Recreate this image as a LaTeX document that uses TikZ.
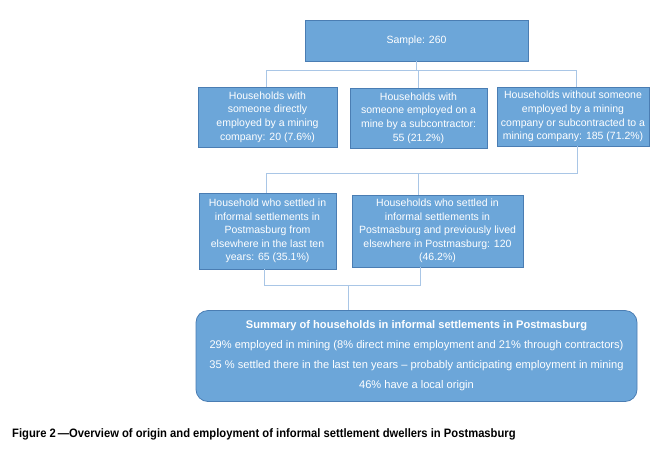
\documentclass[tikz,border=0pt]{standalone}
\usepackage{fontspec}
\setmainfont{Liberation Sans}
\newfontfamily\capfont[FakeStretch=0.92]{Liberation Sans}
\usetikzlibrary{positioning,calc}
\definecolor{boxfill}{HTML}{6CA6D9}
\definecolor{boxedge}{HTML}{4A7DB3}
\definecolor{linkcol}{HTML}{A9C6E6}
\begin{document}
\begin{tikzpicture}[x=1pt,y=-1pt,
  box/.style={draw=boxedge,line width=0.8pt,fill=boxfill,text=white,align=center,inner sep=0pt,
    font=\fontsize{10.5}{13.6}\selectfont},
  link/.style={draw=linkcol,line width=1pt}]
\useasboundingbox (0,0) rectangle (668,456);
\node[box,minimum width=223pt,minimum height=41pt] (sample) at (416.5,40.5) {Sample: 260};
\node[box,minimum width=139pt,minimum height=60pt] (b1) at (267.5,117) {Households with\\someone directly\\employed by a mining\\company: 20 (7.6\%)};
\node[box,minimum width=137pt,minimum height=60pt] (b2) at (418.5,118) {Households with\\someone employed on a\\mine by a subcontractor:\\55 (21.2\%)};
\node[box,minimum width=152pt,minimum height=59pt] (b3) at (573,116.5) {Households without someone\\employed by a mining\\company or subcontracted to a\\mining company: 185 (71.2\%)};
\node[box,minimum width=137pt,minimum height=76pt] (b4) at (267.5,231) {Household who settled in\\informal settlements in\\Postmasburg from\\elsewhere in the last ten\\years: 65 (35.1\%)};
\node[box,minimum width=171pt,minimum height=72pt] (b5) at (437.5,231) {Households who settled in\\informal settlements in\\Postmasburg and previously lived\\elsewhere in Postmasburg: 120\\(46.2\%)};
\node[box,rounded corners=12pt,minimum width=441pt,minimum height=91pt,
  font=\fontsize{11.1}{20}\selectfont] (sum) at (416.5,356)
  {\textbf{Summary of households in informal settlements in Postmasburg}\\
   29\% employed in mining (8\% direct mine employment and 21\% through contractors)\\
   35 \% settled there in the last ten years -- probably anticipating employment in mining\\
   46\% have a local origin};
\node[anchor=west,inner sep=0pt,font=\capfont\bfseries\fontsize{12.2}{13}\selectfont] (cap) at (12,434)
  {Figure 2\,—Overview of origin and employment of informal settlement dwellers in Postmasburg};
% connectors row 1
\coordinate (j1l) at (266,70);
\coordinate (j1r) at (576,70);
\coordinate (j1m) at (416.5,70);
\coordinate (j1b) at (418,70);
\draw[link] (sample.south) -- (j1m);
\draw[link] (j1l |- b1.north) -- (j1l) -- (j1r) -- (j1r |- b3.north);
\draw[link] (j1b) -- (j1b |- b2.north);
% connectors row 2
\coordinate (j2r) at (577,173);
\coordinate (j2l) at (266,173);
\coordinate (j2b) at (418,173);
\draw[link] (j2r |- b3.south) -- (j2r) -- (j2l) -- (j2l |- b4.north);
\draw[link] (j2b) -- (j2b |- b5.north);
% connectors row 3
\coordinate (j3l) at (264,285);
\coordinate (j3r) at (420,285);
\coordinate (j3m) at (348,285);
\draw[link] (j3l |- b4.south) -- (j3l) -- (j3r) -- (j3r |- b5.south);
\draw[link] (j3m) -- (j3m |- sum.north);
\end{tikzpicture}
\end{document}
